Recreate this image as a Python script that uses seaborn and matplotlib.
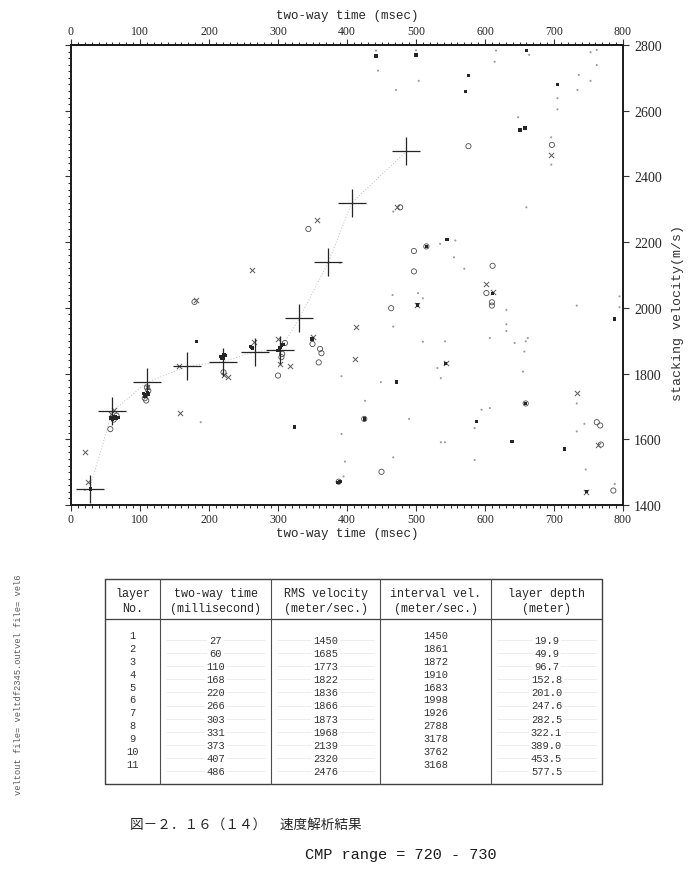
import matplotlib
matplotlib.use("Agg")
import matplotlib.pyplot as plt
import matplotlib.ticker as mticker
import seaborn as sns

# picked velocities (large crosses) and table values
layer_no = [1, 2, 3, 4, 5, 6, 7, 8, 9, 10, 11]
pick_t = [27, 60, 110, 168, 220, 266, 303, 331, 373, 407, 486]
pick_v = [1450, 1685, 1773, 1822, 1836, 1866, 1873, 1968, 2139, 2320, 2476]
int_v = [1450, 1861, 1872, 1910, 1683, 1998, 1926, 2788, 3178, 3762, 3168]
depth = [19.9, 49.9, 96.7, 152.8, 201.0, 247.6, 282.5, 322.1, 389.0, 453.5, 577.5]

# semblance peaks
blob_t = [442, 500, 660, 576, 572, 705, 658, 651, 545, 515, 611, 502, 543, 472, 425,
          659, 639, 715, 747, 788, 390, 387, 182, 28, 218, 224, 262, 305, 349, 324, 588,
          58, 62, 65, 68, 60, 64, 105, 108, 111, 107, 112, 217, 220, 222, 219, 260, 263,
          303, 307, 300]
blob_v = [2767, 2770, 2783, 2707, 2659, 2680, 2547, 2541, 2208, 2187, 2043, 2009, 1831, 1774, 1662,
          1709, 1594, 1570, 1441, 1966, 1471, 1468, 1897, 1449, 1850, 1855, 1880, 1885, 1905, 1637, 1654,
          1665, 1668, 1663, 1666, 1660, 1670, 1740, 1735, 1742, 1730, 1738, 1852, 1848, 1856, 1845, 1882, 1878,
          1880, 1888, 1870]

xmark_t = [181, 25, 21, 158, 227, 222, 265, 317, 303, 412, 413, 733, 764, 602, 696, 356,
           262, 110, 58, 62, 300, 350, 611, 473, 747, 156, 543, 502]
xmark_v = [2024, 1469, 1560, 1680, 1789, 1795, 1895, 1824, 1829, 1844, 1941, 1741, 1584, 2074, 2466, 2267,
           2115, 1760, 1678, 1690, 1905, 1910, 2047, 2306, 1441, 1824, 1831, 2009]

circ_t = [179, 57, 109, 110, 107, 221, 310, 305, 306, 350, 361, 359, 363, 300, 576, 697, 477,
          515, 611, 602, 610, 610, 464, 767, 762, 768, 786, 659, 344, 497, 497, 450, 425,
          388, 62, 66, 112]
circ_v = [2018, 1631, 1718, 1758, 1725, 1804, 1893, 1850, 1860, 1890, 1875, 1834, 1862, 1794, 2492, 2496, 2306,
          2187, 2128, 2045, 2017, 2007, 1999, 1642, 1652, 1584, 1444, 1709, 2240, 2173, 2111, 1501, 1662,
          1471, 1660, 1672, 1748]

dot_t = [442, 500, 616, 664, 753, 762, 445, 504, 614, 471, 736, 762, 753, 734, 705, 705, 648,
         696, 467, 660, 557, 535, 555, 570, 390, 466, 503, 510, 467, 631, 631, 631, 607, 643,
         659, 662, 657, 655, 510, 542, 531, 536, 392, 449, 733, 795, 795, 733, 426, 490, 595,
         607, 585, 744, 733, 536, 542, 392, 397, 467, 585, 746, 788, 395, 188, 20, 696]
dot_v = [2783, 2784, 2783, 2770, 2778, 2785, 2722, 2691, 2749, 2663, 2709, 2739, 2691, 2663, 2638, 2604, 2580,
         2436, 2293, 2306, 2205, 2195, 2154, 2119, 2137, 2039, 2045, 2029, 1943, 1994, 1950, 1930, 1908, 1893,
         1898, 1908, 1867, 1806, 1897, 1898, 1817, 1786, 1792, 1774, 2007, 2035, 2002, 1709, 1717, 1662, 1690,
         1695, 1634, 1647, 1624, 1591, 1591, 1616, 1532, 1545, 1537, 1508, 1464, 1487, 1652, 1446, 2519]

x_ticks = [0, 100, 200, 300, 400, 500, 600, 700, 800]
v_ticks = [1400, 1600, 1800, 2000, 2200, 2400, 2600, 2800]

SERIF = "Liberation Serif"
MONO = "Liberation Mono"
CJK = ["Noto Sans CJK JP", "DejaVu Sans"]

sns.set_style("ticks")
plt.rcParams["font.family"] = [SERIF, "DejaVu Sans"]

W, H = 693, 879
fig = plt.figure(figsize=(W / 100, H / 100), dpi=100, facecolor="white")

# ---- velocity analysis panel ----
ax = fig.add_axes([71 / W, 1 - 506 / H, 552 / W, 460 / H])

sns.lineplot(x=pick_t, y=pick_v, sort=False, ax=ax, color="0.75", lw=0.7,
             linestyle=(0, (1, 2)), zorder=1)
sns.scatterplot(x=dot_t, y=dot_v, ax=ax, marker=".", s=9, color="0.6",
                edgecolor="none", zorder=2)
sns.scatterplot(x=circ_t, y=circ_v, ax=ax, marker="o", s=14, facecolor="none",
                edgecolor="0.3", linewidth=0.6, zorder=3)
sns.scatterplot(x=xmark_t, y=xmark_v, ax=ax, marker="x", s=14, color="0.35",
                linewidth=0.7, zorder=3)
sns.scatterplot(x=blob_t, y=blob_v, ax=ax, marker="s", s=6, color="0.15",
                edgecolor="none", zorder=4)
sns.scatterplot(x=pick_t, y=pick_v, ax=ax, marker="+", s=420, color="0.15",
                linewidth=0.9, zorder=5)

ax.set_xlim(0, 800)
ax.set_ylim(1400, 2800)
ax.set_xticks(x_ticks)
ax.set_yticks(v_ticks)
ax.xaxis.set_minor_locator(mticker.MultipleLocator(10))
ax.yaxis.set_minor_locator(mticker.MultipleLocator(20))
for s in ax.spines.values():
    s.set_linewidth(1.4)
    s.set_color("0.1")

ax.tick_params(axis="both", which="both", direction="out", color="0.2", width=0.8)
ax.tick_params(axis="both", which="major", length=4)
ax.tick_params(axis="both", which="minor", length=2)
ax.tick_params(axis="x", top=False, bottom=True, labelsize=8.5, pad=2)
ax.tick_params(axis="y", left=True, right=True, labelleft=False, labelright=True,
               labelsize=10, pad=4)
for lbl in ax.get_xticklabels() + ax.get_yticklabels():
    lbl.set_family(SERIF)
    lbl.set_color("0.15")

ax.set_xlabel("two-way time (msec)", family=MONO, fontsize=9, color="0.15", labelpad=1)
ax.yaxis.set_label_position("right")
ax.set_ylabel("stacking velocity(m/s)", family=MONO, fontsize=9.5, color="0.2",
              rotation=90)
ax.yaxis.set_label_coords(1.089, 0.42)

top = ax.secondary_xaxis("top")
top.set_xticks(x_ticks)
top.xaxis.set_minor_locator(mticker.MultipleLocator(10))
top.tick_params(which="both", direction="out", color="0.2", width=0.8, labelsize=8.5, pad=2)
top.tick_params(which="major", length=4)
top.tick_params(which="minor", length=2)
top.spines["top"].set_linewidth(1.4)
for lbl in top.get_xticklabels():
    lbl.set_family(SERIF)
    lbl.set_color("0.15")
top.set_xlabel("two-way time (msec)", family=MONO, fontsize=9, color="0.15", labelpad=5)

# ---- page overlay in pixel coordinates: table, captions ----
pg = fig.add_axes([0, 0, 1, 1], zorder=-1)
pg.set_xlim(0, W)
pg.set_ylim(H, 0)
pg.axis("off")

t_left, t_right, t_top, t_bot, t_head = 105, 602, 580, 785, 620
col_edges = [105, 160, 271, 380, 491, 602]
col_mid = [(a + b) / 2 for a, b in zip(col_edges[:-1], col_edges[1:])]
pg.plot([t_left, t_right, t_right, t_left, t_left], [t_top, t_top, t_bot, t_bot, t_top],
        color="0.25", lw=1.0)
pg.plot([t_left, t_right], [t_head, t_head], color="0.25", lw=0.9)
for xe in col_edges[1:-1]:
    pg.plot([xe, xe], [t_top, t_bot], color="0.3", lw=0.8)

headers = [("layer", "No."), ("two-way time", "(millisecond)"), ("RMS velocity", "(meter/sec.)"),
           ("interval vel.", "(meter/sec.)"), ("layer depth", "(meter)")]
for xm, (h1, h2) in zip(col_mid, headers):
    pg.text(xm, 594, h1, ha="center", va="center", family=MONO, fontsize=8.5, color="0.15")
    pg.text(xm, 609, h2, ha="center", va="center", family=MONO, fontsize=8.5, color="0.15")

cols_a = [[str(v) for v in layer_no], None, None, [str(v) for v in int_v], None]
cols_b = [None, [str(v) for v in pick_t], [str(v) for v in pick_v], None,
          [f"{v:.1f}" for v in depth]]
for ci in range(5):
    if cols_a[ci] is not None:
        for i, s in enumerate(cols_a[ci]):
            y = 636 + 12.9 * i
            pg.text(col_mid[ci], y, s, ha="center", va="center", family=MONO,
                    fontsize=7.5, color="0.2")
    else:
        for i, s in enumerate(cols_b[ci]):
            y = 641 + 13.1 * i
            pg.plot([col_edges[ci] + 6, col_edges[ci + 1] - 6], [y, y], color="0.9", lw=0.5, zorder=0)
            pg.text(col_mid[ci], y, s, ha="center", va="center", family=MONO,
                    fontsize=7.5, color="0.2",
                    bbox=dict(facecolor="white", edgecolor="none", pad=1.5))

pg.text(19, 685, "veltout file= veltdf2345.outvel file= vel6", rotation=90,
        ha="center", va="center", family=MONO, fontsize=6.3, color="0.35")
pg.text(130, 826, "図－２．１６（１４）　速度解析結果", ha="left", va="center",
        family=CJK, fontsize=9.8, color="0.15")
pg.text(305, 855, "CMP range = 720 - 730", ha="left", va="center", family=MONO,
        fontsize=11, color="0.1")

fig.savefig("out.png", dpi=100, facecolor="white")
